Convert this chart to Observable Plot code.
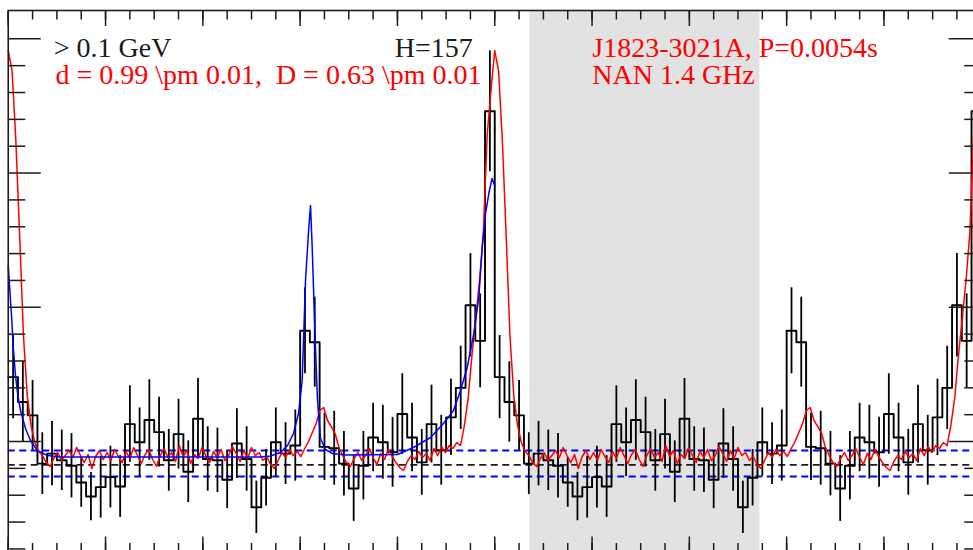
<!DOCTYPE html>
<html>
<head>
<meta charset="utf-8">
<script src="https://cdn.jsdelivr.net/npm/d3@7"></script>
<script src="https://cdn.jsdelivr.net/npm/@observablehq/plot@0.6"></script>
<style>
  html, body { margin: 0; padding: 0; background: #fff; }
  #chart { width: 973px; height: 550px; overflow: hidden; position: relative; }
  #chart svg { max-width: none !important; display: block; }
  #chart svg text { white-space: pre; }
</style>
</head>
<body>
<div id="chart"></div>
<script>
// Gamma-ray light curve, 50 bins per rotation, drawn over two rotations
const binsPerTurn = 50;
const counts = [
  29.6, 25.9, 23.9, 16.7, 18.2, 17.2, 16.4, 13.9, 11.8, 13.2,
  14.7, 13.3, 22.6, 19.9, 23.2, 21.4, 17.2, 21.1, 15.5, 23.4,
  17.4, 17.2, 14.3, 19.7, 17.4, 10.2, 14.6, 19.9, 18.2, 19.4,
  36.5, 34.8, 19.2, 19.0, 16.7, 13.0, 16.4, 20.6, 19.9, 18.4,
  24.1, 20.6, 16.9, 22.6, 18.7, 23.6, 28.0, 40.3, 35.0, 69.2
];
const errors = [
  6.2, 6.0, 5.2, 4.6, 4.8, 4.5, 4.8, 3.7, 3.6, 4.6,
  4.6, 4.6, 5.7, 5.1, 6.0, 5.2, 4.6, 5.2, 4.6, 6.0,
  4.8, 4.8, 4.3, 5.2, 4.8, 3.9, 4.2, 5.1, 4.6, 5.3,
  6.4, 6.7, 5.0, 5.5, 4.8, 4.9, 5.1, 5.1, 5.5, 5.2,
  6.0, 5.1, 4.9, 5.8, 5.2, 5.7, 6.2, 7.7, 7.0, 9.0
];

// 1.4 GHz radio profile, 128 bins per rotation, scaled to the count axis
const radio = [
  78.25, 75.27, 64.85, 50.69, 35.79, 26.85, 22.38, 19.85, 18.51, 17.91,
  16.87, 16.28, 17.47, 18.36, 17.17, 17.91, 18.66, 17.62, 19.11, 17.91,
  16.87, 18.06, 15.98, 17.77, 18.66, 17.32, 18.36, 17.17, 18.81, 17.77,
  16.87, 18.51, 17.47, 19.11, 17.91, 16.72, 18.06, 18.81, 17.32, 16.28,
  17.91, 18.96, 17.62, 18.36, 17.02, 19.40, 17.77, 18.66, 16.72, 18.06,
  17.47, 19.11, 17.91, 16.87, 18.51, 17.62, 18.81, 17.17, 17.91, 19.26,
  18.21, 17.02, 18.66, 17.47, 19.11, 17.91, 18.36, 17.17, 17.77, 16.57,
  15.98, 17.17, 18.36, 17.62, 18.81, 17.91, 18.51, 17.77, 18.96, 20.00,
  21.34, 22.68, 24.62, 25.07, 23.13, 22.23, 21.19, 19.11, 17.91, 16.87,
  16.28, 17.47, 18.36, 17.17, 17.91, 18.96, 17.62, 16.57, 18.21, 17.32,
  18.81, 17.77, 16.87, 16.13, 15.68, 17.02, 17.91, 17.32, 18.51, 17.62,
  18.21, 17.17, 18.96, 17.91, 19.26, 18.36, 19.40, 18.96, 19.85, 19.40,
  22.38, 26.41, 32.81, 38.33, 43.99, 51.14, 65.60, 72.30
];

// Two-peak fit over the first rotation
const fitPhase = [
  0, 0.0026, 0.0067, 0.0108, 0.0149, 0.0190, 0.0252, 0.0355, 0.0457, 0.0601,
  0.0807, 0.1074, 0.2924, 0.5185, 0.5391, 0.5596, 0.5740, 0.5863, 0.5966, 0.6042,
  0.6110, 0.6178, 0.6213, 0.6248, 0.6281, 0.6315, 0.6357, 0.6418, 0.6521, 0.6665,
  0.6932, 0.8001, 0.8330, 0.8679, 0.8946, 0.9152, 0.9296, 0.9434, 0.9569, 0.9672,
  0.9742, 0.9810, 0.9878, 0.9943, 1.0
];
const fitCounts = [
  46.22, 43.24, 38.77, 33.56, 29.83, 27.30, 24.62, 21.94, 20.15, 18.66,
  17.91, 17.69, 17.69, 17.69, 17.84, 18.36, 19.40, 21.19, 24.17, 29.09,
  43.99, 51.88, 55.16, 48.90, 41.45, 34.00, 26.11, 20.45, 18.81, 18.21,
  17.99, 18.06, 19.11, 20.60, 22.68, 24.62, 27.60, 31.03, 36.09, 41.45,
  48.90, 53.97, 56.95, 59.18, 58.14
];

// Background level and its band, off-pulse window
const background = [16.53];
const backgroundBand = [14.79, 18.66];
const offPulse = [[1.072, 1.545]];

// Axis ticks
const xMinor = d3.range(0, 41).map(i => +(i * 0.05).toFixed(2));
const xMajor = d3.range(0, 11).map(i => +(i * 0.2).toFixed(1));
const yMajor = [20, 40, 60, 80];
const yMinor = [4, 8, 12, 16, 24, 28, 32, 36, 44, 48, 52, 56, 64, 68, 72, 76];

// Labels (offsets from the frame's top-left corner)
const labels = [
  {text: "> 0.1 GeV", dx: 45.5, dy: 46, anchor: "start", color: "#1c1c1c"},
  {text: "H=157", dx: 464.5, dy: 46.5, anchor: "end", color: "#1c1c1c"},
  {text: "d = 0.99 \\pm 0.01,  D = 0.63 \\pm 0.01", dx: 47.3, dy: 73.3, anchor: "start", color: "#ff0000"},
  {text: "J1823-3021A, P=0.0054s", dx: 584, dy: 46.5, anchor: "start", color: "#ff0000"},
  {text: "NAN 1.4 GHz", dx: 584, dy: 73.3, anchor: "start", color: "#ff0000"}
];

// Build the drawn series
const hist = [];
const bars = [];
for (let t = 0; t < 2; t++) {
  counts.forEach((c, i) => {
    hist.push({phase: t + i / binsPerTurn, count: c});
    bars.push({phase: t + (i + 0.5) / binsPerTurn, lo: c - errors[i], hi: c + errors[i]});
  });
}
hist.push({phase: 2, count: counts[counts.length - 1]});

const radioLine = [];
for (let t = 0; t < 2; t++) {
  radio.forEach((v, k) => radioLine.push({phase: t + k / radio.length, flux: v}));
}
radioLine.push({phase: 2, flux: radio[0]});

const fit = fitPhase.map((p, i) => ({phase: p, count: fitCounts[i]}));

const ink = "#1c1c1c";
const serif = "Liberation Serif, Times New Roman, serif";
const tickStyle = {fill: "none", label: null, stroke: ink, strokeWidth: 1.5};

const chart = Plot.plot({
  width: 982,
  height: 553,
  marginLeft: 7.75,
  marginRight: 1.25,
  marginTop: 10,
  marginBottom: 1.5,
  x: {domain: [0, 2]},
  y: {domain: [3.54, 84.22]},
  style: {background: "#fff", fontFamily: serif},
  marks: [
    Plot.rect(offPulse, {x1: d => d[0], x2: d => d[1], fill: "#e2e2e2"}),
    Plot.ruleY(backgroundBand, {stroke: "#0000ff", strokeWidth: 1.8, strokeDasharray: "7,4.5"}),
    Plot.ruleY(background, {stroke: ink, strokeWidth: 1.8, strokeDasharray: "7,4.5"}),
    Plot.line(hist, {x: "phase", y: "count", curve: "step-after", stroke: "#000", strokeWidth: 1.9}),
    Plot.ruleX(bars, {x: "phase", y1: "lo", y2: "hi", stroke: "#000", strokeWidth: 1.8}),
    Plot.line(radioLine, {x: "phase", y: "flux", stroke: "#ff0000", strokeWidth: 1.5}),
    Plot.line(fit, {x: "phase", y: "count", stroke: "#0000ff", strokeWidth: 1.5}),
    Plot.frame({stroke: ink, strokeWidth: 1.6}),
    Plot.axisX(xMinor, {anchor: "top", tickSize: -8.5, ...tickStyle}),
    Plot.axisX(xMajor, {anchor: "top", tickSize: -15, ...tickStyle}),
    Plot.axisX(xMinor, {anchor: "bottom", tickSize: -8.5, ...tickStyle}),
    Plot.axisX(xMajor, {anchor: "bottom", tickSize: -15, ...tickStyle}),
    Plot.axisY(yMinor, {anchor: "left", tickSize: -17.5, ...tickStyle}),
    Plot.axisY(yMajor, {anchor: "left", tickSize: -33, ...tickStyle}),
    Plot.axisY(yMinor, {anchor: "right", tickSize: -17.5, ...tickStyle}),
    Plot.axisY(yMajor, {anchor: "right", tickSize: -33, ...tickStyle}),
    ...labels.map(l => Plot.text([l], {
      text: "text", frameAnchor: "top-left", dx: l.dx, dy: l.dy,
      textAnchor: l.anchor, lineAnchor: "bottom",
      fontSize: 28, fontFamily: serif, fill: l.color
    }))
  ]
});

document.getElementById("chart").appendChild(chart);
</script>
</body>
</html>
